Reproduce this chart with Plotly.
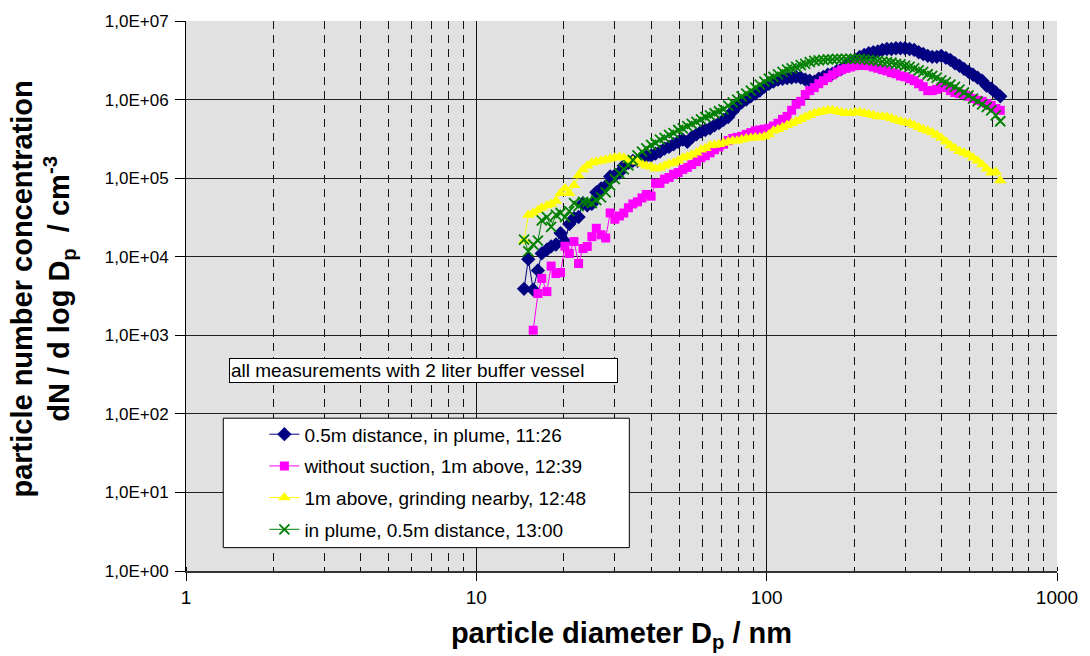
import plotly.graph_objects as go

# particle diameter channels (nm)
diam_nm = [14.6, 15.1, 15.7, 16.3, 16.8, 17.5, 18.1, 18.8, 19.5, 20.2,
           20.9, 21.7, 22.5, 23.3, 24.1, 25.0, 25.9, 26.9, 27.9, 28.9,
           30.0, 31.1, 32.2, 33.4, 34.6, 35.9, 37.2, 38.5, 40.0, 41.4,
           42.9, 44.5, 46.1, 47.8, 49.6, 51.4, 53.3, 55.2, 57.3, 59.4,
           61.5, 63.8, 66.1, 68.5, 71.0, 73.7, 76.4, 79.1, 82.0, 85.1,
           88.2, 91.4, 94.7, 98.2, 101.8, 105.5, 109.4, 113.4, 117.6, 121.9,
           126.3, 131.0, 135.8, 140.7, 145.9, 151.2, 156.8, 162.5, 168.5, 174.7,
           181.1, 187.7, 194.6, 201.7, 209.1, 216.7, 224.7, 232.9, 241.4, 250.3,
           259.5, 269.0, 278.8, 289.0, 299.6, 310.6, 322.0, 333.8, 346.0, 358.7,
           371.8, 385.4, 399.5, 414.2, 429.4, 445.1, 461.4, 478.3, 495.8, 514.0,
           532.8, 552.3, 572.5, 593.5, 615.3, 637.8]

s_1126 = [3.9e3, 9.3e3, 3.8e3, 6.7e3, 1.1e4, 1.23e4, 1.35e4, 1.43e4, 2.0e4, 1.56e4,
          2.6e4, 3.1e4, 3.2e4, 4.8e4, 4.5e4, 4.7e4, 6.6e4, 7.4e4, 7.9e4, 1.05e5,
          1.08e5, 1.18e5, 1.44e5, 1.57e5, 1.66e5, 1.66e5, 1.77e5, 1.88e5, 1.93e5, 2.05e5,
          2.17e5, 2.37e5, 2.5e5, 2.7e5, 2.9e5, 3.1e5, 2.9e5, 3.3e5, 3.6e5, 3.9e5,
          4.1e5, 4.3e5, 4.7e5, 5.0e5, 5.5e5, 6.0e5, 7.1e5, 8.2e5, 9.2e5, 1.0e6,
          1.1e6, 1.19e6, 1.3e6, 1.46e6, 1.59e6, 1.69e6, 1.79e6, 1.84e6, 1.87e6, 1.9e6,
          1.95e6, 1.9e6, 1.79e6, 1.74e6, 1.69e6, 1.84e6, 1.95e6, 2.07e6, 2.14e6, 2.32e6,
          2.46e6, 2.69e6, 2.9e6, 3.2e6, 3.5e6, 3.7e6, 3.9e6, 4.0e6, 4.1e6, 4.3e6,
          4.4e6, 4.4e6, 4.5e6, 4.5e6, 4.5e6, 4.4e6, 4.3e6, 4.0e6, 3.8e6, 3.6e6,
          3.5e6, 3.5e6, 3.6e6, 3.4e6, 3.2e6, 2.9e6, 2.69e6, 2.46e6, 2.25e6, 2.07e6,
          1.9e6, 1.74e6, 1.5e6, 1.38e6, 1.23e6, 1.1e6]

s_1239 = [None, None, 1.16e3, 3.4e3, 5.3e3, 3.6e3, 7.6e3, 6.1e3, 6.3e3, 1.36e4,
          1.1e4, 1.56e4, 8.2e3, 1.27e4, 1.35e4, 1.8e4, 2.3e4, 1.9e4, 1.73e4, 3.6e4,
          3.0e4, 3.3e4, 3.6e4, 4.2e4, 4.7e4, 5.0e4, 5.6e4, 6.2e4, 5.9e4, 8.6e4,
          8.6e4, 9.7e4, 1.02e5, 1.12e5, 1.18e5, 1.29e5, 1.37e5, 1.49e5, 1.62e5, 1.82e5,
          1.93e5, 2.1e5, 2.3e5, 2.5e5, 2.7e5, 3.0e5, 3.2e5, 3.3e5, 3.4e5, 3.6e5,
          3.8e5, 4.0e5, 4.1e5, 4.2e5, 4.3e5, 4.6e5, 5.0e5, 5.6e5, 6.1e5, 7.3e5,
          8.7e5, 9.5e5, 1.16e6, 1.3e6, 1.42e6, 1.59e6, 1.74e6, 1.9e6, 2.07e6, 2.25e6,
          2.4e6, 2.5e6, 2.6e6, 2.7e6, 2.75e6, 2.73e6, 2.7e6, 2.6e6, 2.5e6, 2.4e6,
          2.32e6, 2.2e6, 2.13e6, 2.0e6, 1.95e6, 1.84e6, 1.74e6, 1.59e6, 1.46e6, 1.3e6,
          1.3e6, 1.35e6, 1.46e6, 1.42e6, 1.3e6, 1.23e6, 1.19e6, 1.16e6, 1.1e6, 1.03e6,
          9.8e5, 9.5e5, 8.9e5, 8.4e5, 7.7e5, 7.3e5]

s_1248 = [1.6e4, 3.4e4, 3.6e4, 3.9e4, 4.2e4, 4.5e4, 4.7e4, 5.1e4, 6.4e4, 7.4e4,
          6.4e4, 8.1e4, 1.08e5, 1.29e5, 1.44e5, 1.57e5, 1.62e5, 1.67e5, 1.72e5, 1.77e5,
          1.82e5, 1.85e5, 1.82e5, 1.72e5, 1.67e5, 1.62e5, 1.53e5, 1.44e5, 1.4e5, 1.32e5,
          1.36e5, 1.44e5, 1.53e5, 1.57e5, 1.67e5, 1.82e5, 1.88e5, 1.99e5, 2.1e5, 2.3e5,
          2.4e5, 2.6e5, 2.65e5, 2.7e5, 2.8e5, 2.9e5, 3.0e5, 3.0e5, 3.1e5, 3.2e5,
          3.25e5, 3.3e5, 3.3e5, 3.4e5, 3.6e5, 4.0e5, 4.2e5, 4.45e5, 4.7e5, 5.0e5,
          5.3e5, 5.6e5, 6.0e5, 6.3e5, 6.7e5, 6.9e5, 7.1e5, 7.3e5, 7.3e5, 7.1e5,
          6.9e5, 6.7e5, 6.7e5, 6.9e5, 6.9e5, 6.7e5, 6.5e5, 6.3e5, 6.1e5, 6.1e5,
          6.0e5, 5.8e5, 5.5e5, 5.3e5, 5.1e5, 5.0e5, 4.7e5, 4.45e5, 4.2e5, 4.0e5,
          3.8e5, 3.55e5, 3.25e5, 2.9e5, 2.6e5, 2.4e5, 2.2e5, 2.1e5, 1.99e5, 1.82e5,
          1.67e5, 1.49e5, 1.32e5, 1.17e5, 1.2e5, 9.3e4]

s_1300 = [1.65e4, 1.17e4, 1.43e4, 1.6e4, 2.9e4, 3.2e4, 2.4e4, 3.4e4, 3.6e4, 3.2e4,
          3.8e4, 4.8e4, 4.4e4, 5.0e4, 5.0e4, 4.8e4, 5.25e4, 5.7e4, 6.6e4, 8.1e4,
          9.7e4, 1.15e5, 1.29e5, 1.45e5, 1.7e5, 1.95e5, 2.17e5, 2.4e5, 2.65e5, 2.8e5,
          3.1e5, 3.25e5, 3.55e5, 3.75e5, 4.1e5, 4.3e5, 4.6e5, 4.9e5, 5.2e5, 5.6e5,
          6.0e5, 6.3e5, 6.7e5, 7.1e5, 7.5e5, 8.4e5, 9.2e5, 1.0e6, 1.1e6, 1.19e6,
          1.3e6, 1.42e6, 1.55e6, 1.69e6, 1.84e6, 1.95e6, 2.09e6, 2.25e6, 2.4e6, 2.5e6,
          2.6e6, 2.75e6, 2.85e6, 3.0e6, 3.1e6, 3.15e6, 3.2e6, 3.25e6, 3.25e6, 3.3e6,
          3.3e6, 3.3e6, 3.3e6, 3.3e6, 3.3e6, 3.25e6, 3.2e6, 3.15e6, 3.1e6, 3.05e6,
          3.0e6, 2.95e6, 2.85e6, 2.8e6, 2.7e6, 2.6e6, 2.5e6, 2.35e6, 2.25e6, 2.1e6,
          2.0e6, 1.9e6, 1.76e6, 1.67e6, 1.55e6, 1.45e6, 1.34e6, 1.23e6, 1.13e6, 1.03e6,
          9.5e5, 8.7e5, 8.0e5, 7.3e5, 6.3e5, 5.3e5]

series_names = ["0.5m distance, in plume, 11:26",
                "without suction, 1m above, 12:39",
                "1m above, grinding nearby, 12:48",
                "in plume, 0.5m distance, 13:00"]
series_values = [s_1126, s_1239, s_1248, s_1300]
series_colors = ["#000080", "#FF00FF", "#FFFF00", "#008000"]
series_symbols = ["diamond", "square", "triangle-up", "x-thin"]
series_sizes = [11, 9, 11, 10]

x_tickvals = [1, 10, 100, 1000]
x_ticktext = ["1", "10", "100", "1000"]
y_tickvals = [1, 10, 100, 1e3, 1e4, 1e5, 1e6, 1e7]
y_ticktext = ["1,0E+00", "1,0E+01", "1,0E+02", "1,0E+03",
              "1,0E+04", "1,0E+05", "1,0E+06", "1,0E+07"]

FONT = "Liberation Sans, Arial, sans-serif"

fig = go.Figure()
for name, vals, col, sym, sz in zip(series_names, series_values, series_colors,
                                    series_symbols, series_sizes):
    if sym == "x-thin":
        marker = dict(symbol=sym, size=sz, color=col, line=dict(color=col, width=1.8))
    else:
        marker = dict(symbol=sym, size=sz, color=col, line=dict(width=0))
    fig.add_trace(go.Scatter(x=diam_nm, y=vals, mode="lines+markers", name=name,
                             legendgroup=name, line=dict(color=col, width=1),
                             marker=marker, connectgaps=False))

fig.update_layout(
    width=1090, height=656, autosize=False,
    margin=dict(l=186, r=32, t=13, b=85),
    paper_bgcolor="white", plot_bgcolor="#E1E1E1",
    font=dict(family=FONT, size=19, color="black"),
    showlegend=True,
    legend=dict(x=0.09, y=0.283, xanchor="left", yanchor="top",
                bgcolor="rgba(0,0,0,0)", borderwidth=0,
                font=dict(family=FONT, size=19, color="black"),
                tracegroupgap=4, itemwidth=30),
)

fig.update_xaxes(type="log", range=[0, 3], tickmode="array", tickvals=x_tickvals,
                 ticktext=x_ticktext, tickfont=dict(size=19),
                 showgrid=True, gridcolor="#111111", gridwidth=1,
                 showline=True, linecolor="#333333", linewidth=2,
                 ticks="outside", ticklen=8, tickcolor="black", zeroline=False,
                 minor=dict(dtick="D1", showgrid=True, gridcolor="#111111",
                            griddash="8px,6px", gridwidth=1,
                            ticks="inside", ticklen=4, tickcolor="black"),
                 title=dict(text="<b>particle diameter D<sub>p</sub> / nm</b>",
                            font=dict(size=29), standoff=16))

fig.update_yaxes(type="log", range=[0, 7], tickmode="array", tickvals=y_tickvals,
                 ticktext=y_ticktext, tickfont=dict(size=17),
                 showgrid=True, gridcolor="#222222", gridwidth=1,
                 showline=True, linecolor="black", linewidth=1,
                 ticks="outside", ticklen=10, tickcolor="black", zeroline=False,
                 ticklabelstandoff=3)

# y-axis title (two lines, rotated)
fig.add_annotation(text="<b>particle number concentration<br>dN / d log D<sub>p</sub>  / cm<sup>-3</sup></b>",
                   xref="paper", yref="paper", x=-0.164, y=0.512,
                   xanchor="center", yanchor="middle", textangle=-90,
                   showarrow=False, font=dict(size=29, family=FONT))

# info box
fig.add_annotation(text="all measurements with 2 liter buffer vessel",
                   xref="paper", yref="paper", x=0.0497, y=0.3866,
                   xanchor="left", yanchor="top", showarrow=False, align="left",
                   width=385, bgcolor="white", bordercolor="black",
                   borderwidth=1, borderpad=1, font=dict(size=19, family=FONT))

# legend frame
fig.add_shape(type="rect", xref="paper", yref="paper",
              x0=0.0428, x1=0.509, y0=0.0425, y1=0.2778,
              fillcolor="white", line=dict(color="black", width=1), layer="above")

fig.write_html("out.html")
